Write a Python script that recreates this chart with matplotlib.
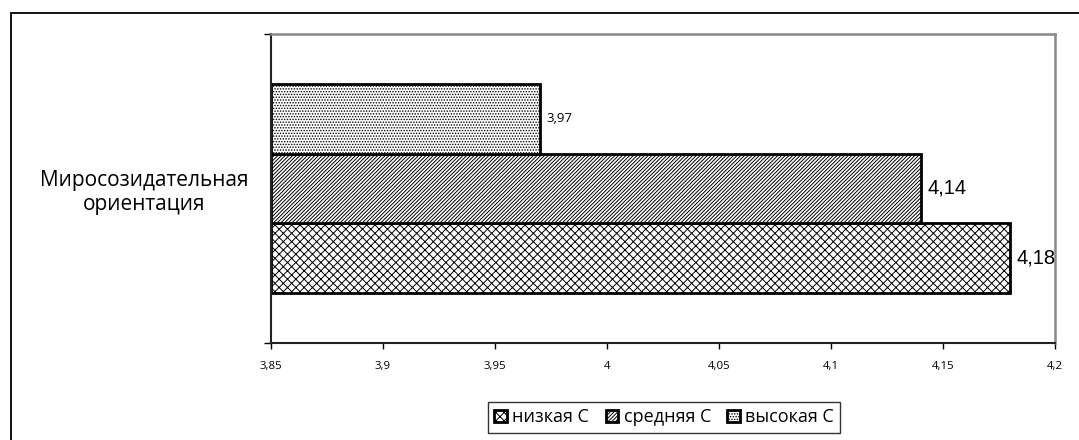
import matplotlib
matplotlib.use("Agg")
import matplotlib.pyplot as plt
from matplotlib.patches import Rectangle
from matplotlib.ticker import FuncFormatter

# data
category = "Миросозидательная\nориентация"
groups = ["низкая С", "средняя С", "высокая С"]
values = [4.18, 4.14, 3.97]
hatches = ["xxxx", "/////////", "......"]
label_sizes = [14.5, 14.5, 9.5]
label_fonts = ["Liberation Sans", "Liberation Sans", "Open Sans"]
xticks = [3.85, 3.9, 3.95, 4.0, 4.05, 4.1, 4.15, 4.2]

plt.rcParams["font.family"] = ["Open Sans", "DejaVu Sans"]
plt.rcParams["hatch.linewidth"] = 0.7

fig = plt.figure(figsize=(10.79, 4.40), dpi=100)
ax = fig.add_axes([271 / 1079, 1 - 343 / 440, 784 / 1079, 309 / 440])

h = 0.2255
offsets = [-h, 0, h]
for name, v, hat, off, fs, fn in zip(groups, values, hatches, offsets, label_sizes, label_fonts):
    ax.barh(off, v - 3.85, left=3.85, height=h, color="white", edgecolor="black",
            hatch=hat, linewidth=2, label=name)
    ax.text(v + 0.003, off, f"{v:.2f}".replace(".", ","), va="center", ha="left",
            fontsize=fs, family=fn)

ax.set_xlim(3.85, 4.2)
ax.set_ylim(-0.5, 0.5)
ax.set_xticks(xticks)
ax.xaxis.set_major_formatter(FuncFormatter(lambda x, p: f"{x:g}".replace(".", ",")))
ax.tick_params(axis="x", labelsize=8.2, length=4, width=1, pad=9)

ax.set_yticks([0])
ax.set_yticklabels([category], fontsize=15)
for lbl in ax.get_yticklabels():
    lbl.set_multialignment("center")
ax.tick_params(axis="y", length=0, pad=16)
ax.set_yticks([-0.5, 0.5], minor=True)
ax.tick_params(axis="y", which="minor", length=5, width=1)

for s in ["left", "bottom"]:
    ax.spines[s].set_color("#222222")
    ax.spines[s].set_linewidth(1.5)
for s in ["top", "right"]:
    ax.spines[s].set_color("#888888")
    ax.spines[s].set_linewidth(1.8)

# outer chart frame
fig.patches.append(Rectangle((11 / 1079, -0.2), 1.2, 1.2 + (1 - 13 / 440) - 1.0,
                             transform=fig.transFigure, fill=False,
                             edgecolor="black", linewidth=1.3))

fig.legend(loc="upper left", bbox_to_anchor=(488 / 1079, 1 - 402 / 440), ncol=3,
           frameon=True, fancybox=False, edgecolor="black", fontsize=13,
           handlelength=0.7, handleheight=0.7, handletextpad=0.3,
           columnspacing=0.9, borderpad=0.35, borderaxespad=0)

fig.savefig("out.png", dpi=100)
